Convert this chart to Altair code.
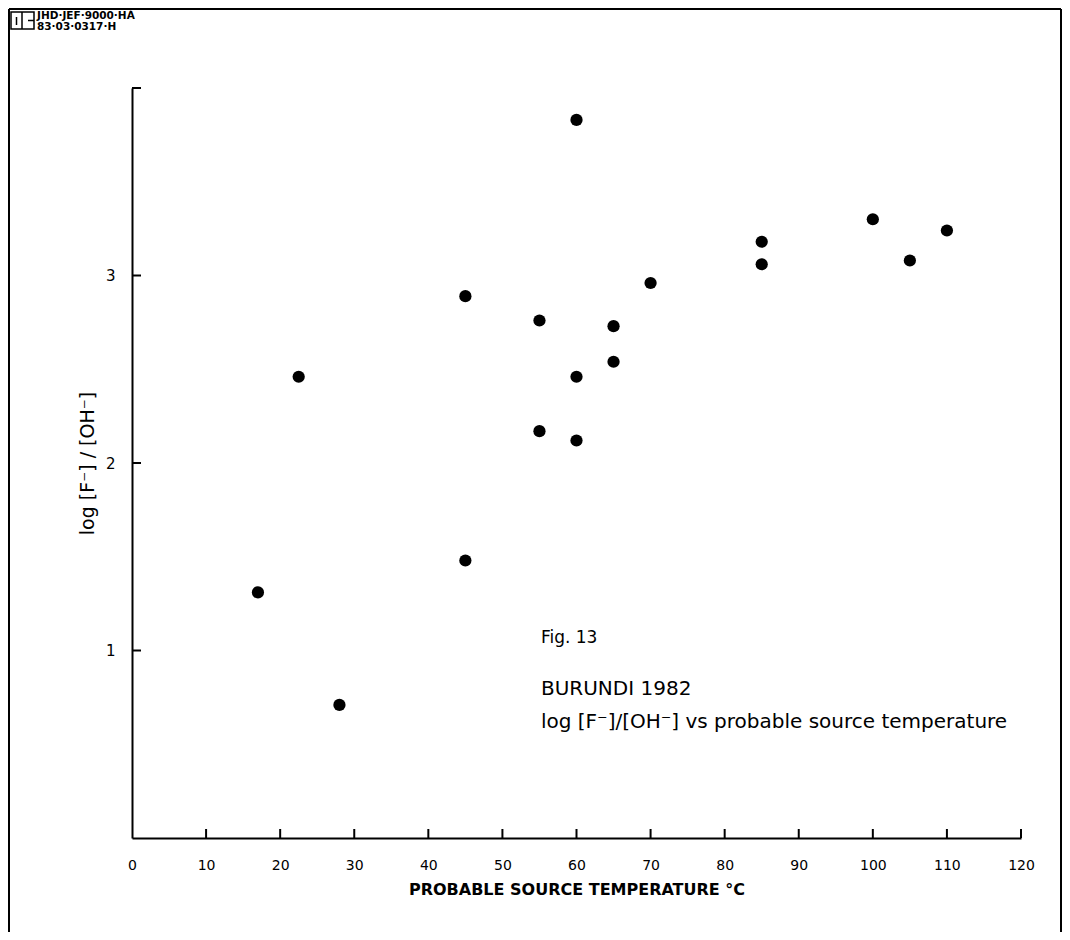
import altair as alt
import pandas as pd

# ---- data ----
temps = [17, 22.5, 28, 45, 45, 55, 55, 60, 60, 60, 65, 65, 70, 85, 85, 100, 105, 110]
ratios = [1.31, 2.46, 0.71, 2.89, 1.48, 2.76, 2.17, 3.83, 2.46, 2.12, 2.73, 2.54, 2.96, 3.18, 3.06, 3.30, 3.08, 3.24]

x_label_values = list(range(0, 130, 10))
x_tick_values = list(range(10, 130, 10))
y_label_values = [1, 2, 3]
y_tick_values = [1, 2, 3, 4]

note_texts = ["Fig. 13", "BURUNDI  1982", "log [F⁻]/[OH⁻] vs probable source temperature"]
note_x = [55.2, 55.2, 55.2]
note_y = [1.065, 0.795, 0.62]
note_size = [17, 20, 20]

logo_lines = ["JHD·JEF·9000·HÁ", "83·03·0317·H"]

FONT = "DejaVu Sans"
W, H = 889, 750

pts = pd.DataFrame({"temp": temps, "ratio": ratios})
xt = pd.DataFrame({"t": x_tick_values})
yt = pd.DataFrame({"t": y_tick_values})
notes = pd.DataFrame({"text": note_texts, "x": note_x, "y": note_y, "size": note_size})
one = pd.DataFrame({"a": [0]})

xscale = alt.Scale(domain=[0, 120], nice=False, zero=False)
yscale = alt.Scale(domain=[0, 4], nice=False, zero=False)

points = alt.Chart(pts).mark_circle(size=150, color="black", opacity=1).encode(
    x=alt.X("temp:Q", scale=xscale,
            axis=alt.Axis(values=x_label_values, format="d", tickSize=0, labelPadding=20, labelFontSize=14,
                          labelFont=FONT, labelColor="black", domainColor="black", domainWidth=2,
                          grid=False, title="PROBABLE SOURCE TEMPERATURE °C", titleFont=FONT,
                          titleFontSize=16, titleFontWeight="bold", titleColor="black",
                          titlePadding=9, labelFlush=False)),
    y=alt.Y("ratio:Q", scale=yscale,
            axis=alt.Axis(values=y_label_values, format="d", tickSize=0, labelPadding=17, labelFontSize=15,
                          labelFont=FONT, labelColor="black", domainColor="black", domainWidth=2,
                          grid=False, title="log [F⁻] / [OH⁻]", titleFont=FONT, titleFontSize=19,
                          titleFontWeight="normal", titleColor="black", titlePadding=8)),
)

xticks = alt.Chart(xt).mark_rule(color="black", strokeWidth=2).encode(
    x=alt.X("t:Q", scale=xscale), y=alt.value(H), y2=alt.value(H - 9)
)
yticks = alt.Chart(yt).mark_rule(color="black", strokeWidth=2).encode(
    y=alt.Y("t:Q", scale=yscale), x=alt.value(0), x2=alt.value(9)
)

note_layer = alt.Chart(notes).mark_text(align="left", baseline="middle", font=FONT, color="black").encode(
    x=alt.X("x:Q", scale=xscale), y=alt.Y("y:Q", scale=yscale), text="text:N",
    size=alt.Size("size:Q", scale=None, legend=None)
)

# decorative frame and logo (page furniture, not data)
frame_left = alt.Chart(one).mark_rule(color="black", strokeWidth=2).encode(
    x=alt.value(-123), y=alt.value(-79), y2=alt.value(H + 94))
frame_top = alt.Chart(one).mark_rule(color="black", strokeWidth=2).encode(
    x=alt.value(-123), x2=alt.value(929), y=alt.value(-79))
frame_right = alt.Chart(one).mark_rule(color="black", strokeWidth=2).encode(
    x=alt.value(929), y=alt.value(-79), y2=alt.value(H + 94))

logo_box = alt.Chart(one).mark_rect(fill="white", stroke="black", strokeWidth=1.5).encode(
    x=alt.value(-121), x2=alt.value(-98), y=alt.value(-76), y2=alt.value(-59))
logo_div = alt.Chart(one).mark_rule(color="black", strokeWidth=1.5).encode(
    x=alt.value(-110), y=alt.value(-76), y2=alt.value(-59))
logo_h = alt.Chart(one).mark_rule(color="black", strokeWidth=1.5).encode(
    x=alt.value(-104), x2=alt.value(-98), y=alt.value(-67.5))
logo_i = alt.Chart(one).mark_rule(color="black", strokeWidth=1.5).encode(
    x=alt.value(-115.5), y=alt.value(-71), y2=alt.value(-63))
logo_t1 = alt.Chart(one).mark_text(align="left", baseline="middle", font=FONT, fontSize=10.5,
                                   fontWeight="bold", color="black", text=logo_lines[0]).encode(
    x=alt.value(-95), y=alt.value(-72))
logo_t2 = alt.Chart(one).mark_text(align="left", baseline="middle", font=FONT, fontSize=10.5,
                                   fontWeight="bold", color="black", text=logo_lines[1]).encode(
    x=alt.value(-95), y=alt.value(-61))

chart = alt.layer(
    points, xticks, yticks, note_layer,
    frame_left, frame_top, frame_right,
    logo_box, logo_div, logo_h, logo_i, logo_t1, logo_t2,
).properties(
    width=W, height=H,
    background="white",
    autosize=alt.AutoSizeParams(type="none"),
    padding={"left": 124, "top": 80, "right": 41, "bottom": 94},
).configure_view(stroke=None)

chart.save("out.html", embed_options={"renderer": "svg", "actions": False})
